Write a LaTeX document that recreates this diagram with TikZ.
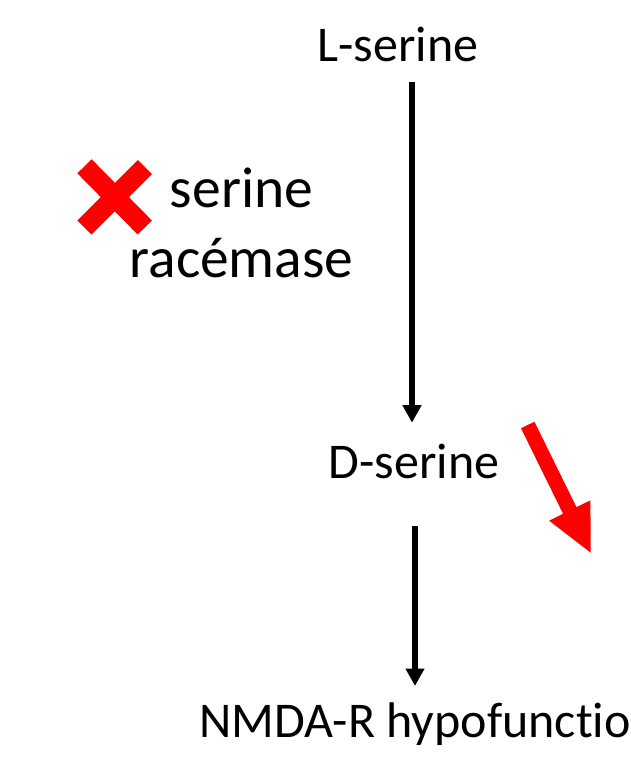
\documentclass[tikz,border=0pt]{standalone}
\usepackage{fontspec}
\setmainfont{Carlito}[Ligatures=NoCommon]
\usetikzlibrary{arrows.meta}
\begin{document}
\begin{tikzpicture}[x=1pt,y=-1pt,
  lbl/.style={inner sep=0pt, anchor=base, font=\fontsize{50}{60}\selectfont},
  enz/.style={inner sep=0pt, anchor=base, font=\fontsize{57.5}{70}\selectfont},
  flow/.style={line width=6pt, -{Triangle[length=17.5pt,width=18pt]}},
  cross/.style={red, line width=20pt, line cap=butt}]
\useasboundingbox (0,0) rectangle (631,763);
\clip (0,0) rectangle (631,763);
\node[lbl] (ls) at (398,61) {L-serine};
\node[lbl] (ds) at (414,478.5) {D-serine};
\node[lbl, anchor=base west] (nm) at (199,737) {NMDA-R hypofunct\kern0pt ion};
\node[enz] (e1) at (241.5,207) {serine};
\node[enz] (e2) at (241.5,277.5) {racémase};
\coordinate (a1s) at (412,82);
\coordinate (a1e) at (412,422.7);
\coordinate (a2s) at (415,526);
\coordinate (a2e) at (415,686);
\draw[flow] (a1s) -- (a1e);
\draw[flow] (a2s) -- (a2e);
% red cross
\draw[cross] (84.5,166.3) -- (144.8,227.5);
\draw[cross] (145,167) -- (84.5,227.5);
% red arrow
\fill[red] (534.4,421.7) -- (576.5,507.2) -- (590.4,500.3) -- (590.7,552.7)
  -- (549.2,520.7) -- (563.1,513.8) -- (521.0,428.3) -- cycle;
\end{tikzpicture}
\end{document}
